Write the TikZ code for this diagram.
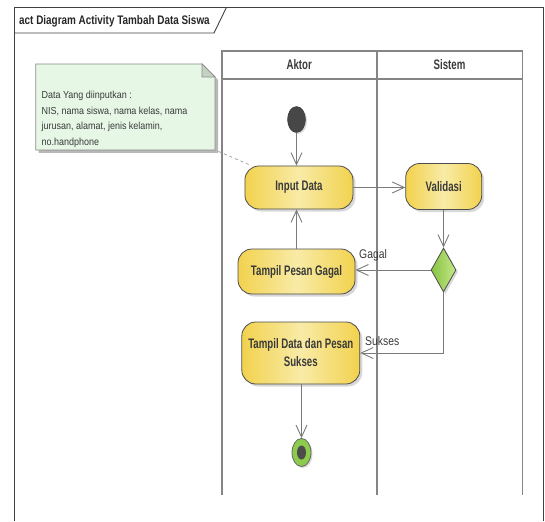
\documentclass[tikz,border=0pt]{standalone}
\usepackage{fontspec}
\newfontfamily\nodefont[FakeStretch=0.70]{Liberation Sans}
\newfontfamily\titlefont[FakeStretch=0.80]{Liberation Sans}
\newfontfamily\lblfont[FakeStretch=0.83]{Liberation Sans}
\newfontfamily\notefont[FakeStretch=0.88]{Liberation Sans}
\usetikzlibrary{arrows.meta,shapes.geometric,shadows}
\definecolor{linegray}{HTML}{7A7A7A}
\definecolor{lanegray}{HTML}{858585}
\definecolor{txt}{HTML}{3A3A3A}
\definecolor{ylwA}{HTML}{F2D24E}
\definecolor{ylwB}{HTML}{F8EBA6}
\definecolor{grnA}{HTML}{86C440}
\definecolor{grnB}{HTML}{C6E68A}
\definecolor{notefill}{HTML}{E6F7E6}
\definecolor{finalgrn}{HTML}{8CCB4C}
\tikzset{
  act/.style={draw=black!70, line width=0.8pt, rounded corners=14pt,
    left color=ylwA, right color=ylwA, middle color=ylwB,
    drop shadow={shadow xshift=2.5pt, shadow yshift=-2.5pt, fill=black!30},
    font=\nodefont\bfseries\fontsize{13.8}{18}\selectfont, text=txt, align=center, inner sep=0pt},
  conn/.style={draw=linegray, line width=0.9pt,
    -{Straight Barb[length=12pt, width=11pt, line width=0.9pt]}},
  lane/.style={draw=lanegray, line width=1.6pt},
  lbl/.style={font=\lblfont\fontsize{12.5}{14}\selectfont, text=txt, inner sep=0pt},
  hdr/.style={font=\nodefont\bfseries\fontsize{13.8}{15}\selectfont, text=txt, inner sep=0pt},
}
\begin{document}
\begin{tikzpicture}[x=1pt, y=-1pt]
\useasboundingbox (0,0) rectangle (545,521);
% frame
\draw[black!75, line width=0.9pt] (14.3,521) -- (14.3,7.3) -- (543.3,7.3) -- (543.3,521);
\draw[black!75, line width=0.9pt] (14.3,33) -- (214,33) -- (226.5,7.3);
\node[anchor=west, font=\titlefont\bfseries\fontsize{12.4}{14}\selectfont, text=black!85, inner sep=0pt] (title) at (19,21) {act Diagram Activity Tambah Data Siswa};
% swimlanes
\draw[lane] (221.7,495) -- (221.7,51) -- (522.3,51) -- (522.3,495);
\draw[lane] (221.7,79) -- (522.3,79);
\draw[lane] (376.7,51) -- (376.7,495);
\node[hdr] (aktor) at (299.2,65) {Aktor};
\node[hdr] (sistem) at (449.5,65) {Sistem};
% note
\node[inner sep=0pt, minimum width=179.3pt, minimum height=86pt, anchor=north west] (note) at (35.7,64) {};
\fill[black!28] (38.7,67) -- (205,67) -- (218,80) -- (218,153) -- (38.7,153) -- cycle;
\draw[fill=notefill, draw=black!45, line width=0.7pt] (35.7,64) -- (202,64) -- (215,77) -- (215,150) -- (35.7,150) -- cycle;
\draw[fill=notefill!85!black, draw=black!45, line width=0.7pt] (202,64) -- (202,77) -- (215,77) -- cycle;
\node[anchor=north west, align=left, font=\notefont\fontsize{10.2}{15.5}\selectfont, text=txt, inner sep=0pt] (notetext) at (41.5,91) {Data Yang diinputkan :\\NIS, nama siswa, nama kelas, nama\\jurusan, alamat, jenis kelamin,\\no.handphone};
% nodes
\node[ellipse, fill=black!72, draw=black!80, minimum width=18pt, minimum height=26pt, inner sep=0pt,
  drop shadow={shadow xshift=1.5pt, shadow yshift=-1.5pt, fill=black!30}] (init) at (296.5,119.5) {};
\node[act, minimum width=108pt, minimum height=43pt] (input) at (298.9,187.5) {Input Data};
\node[act, minimum width=76pt, minimum height=46pt] (val) at (443.7,186.5) {Validasi};
\node[diamond, draw=black!70, line width=0.8pt, left color=grnA, right color=grnB, minimum width=25pt, minimum height=44pt, inner sep=0pt,
  drop shadow={shadow xshift=2pt, shadow yshift=-2pt, fill=black!30}] (dec) at (443.5,270) {};
\node[act, minimum width=117pt, minimum height=45pt] (gagal) at (296.5,271.5) {Tampil Pesan Gagal};
\node[act, minimum width=118pt, minimum height=62pt] (sukses) at (300.8,353) {Tampil Data dan Pesan\\Sukses};
\node[ellipse, fill=finalgrn, draw=black!60, line width=0.8pt, minimum width=19pt, minimum height=28pt, inner sep=0pt,
  drop shadow={shadow xshift=1.5pt, shadow yshift=-1.5pt, fill=black!30}] (final) at (301.5,452.5) {};
\node[ellipse, fill=black!70, minimum width=9pt, minimum height=14pt, inner sep=0pt] (finalin) at (final.center) {};
% connectors
\draw[dashed, draw=black!40, line width=0.7pt] ([shift={(3,1)}]note.south east) -- ([xshift=7pt]input.north west);
\draw[conn] (init.south) -- (init.south |- input.north);
\draw[conn] (input.east) -- (val.west |- input.east);
\draw[conn] (val.south -| dec.north) -- (dec.north);
\draw[conn] (dec.west) -- (gagal.east |- dec.west);
\draw[conn] (gagal.north -| init.south) -- (init.south |- input.south);
\draw[conn] (dec.south) |- (sukses.east);
\draw[conn] (sukses.south -| final.north) -- (final.north);
\node[lbl, anchor=west] (lgagal) at (359,255) {Gagal};
\node[lbl, anchor=west] (lsukses) at (365,341) {Sukses};
\end{tikzpicture}
\end{document}
